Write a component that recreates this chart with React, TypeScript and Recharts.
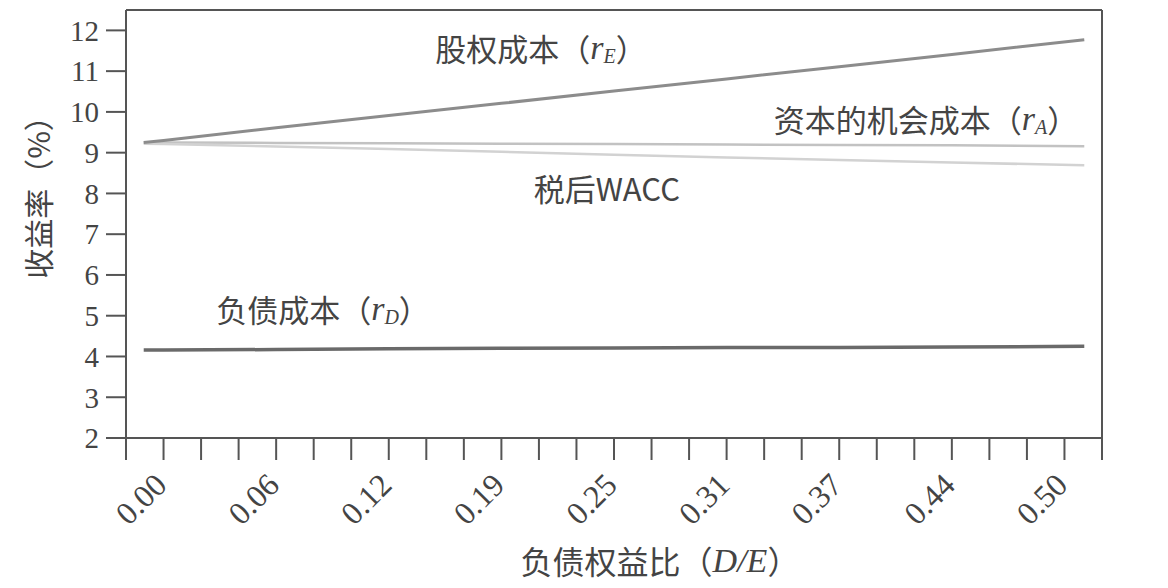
import React from 'react';
import { LineChart, Line, XAxis, YAxis, ReferenceDot, ReferenceLine } from 'recharts';

// D/E values where the curves were read
const debtEquity = [-0.011, 0, 0.0625, 0.125, 0.1875, 0.25, 0.3125, 0.375, 0.4375, 0.511];
const costOfEquity = [9.25, 9.3, 9.61, 9.91, 10.21, 10.51, 10.81, 11.11, 11.41, 11.77];
const costOfCapital = [9.25, 9.25, 9.24, 9.23, 9.22, 9.21, 9.2, 9.19, 9.18, 9.16];
const afterTaxWacc = [9.22, 9.21, 9.15, 9.09, 9.02, 8.95, 8.88, 8.82, 8.76, 8.69];
const costOfDebt = [4.16, 4.16, 4.17, 4.19, 4.2, 4.21, 4.22, 4.22, 4.23, 4.25];

const xTickLabels = ['0.00', '0.06', '0.12', '0.19', '0.25', '0.31', '0.37', '0.44', '0.50'];
const yTicks = [2, 3, 4, 5, 6, 7, 8, 9, 10, 11, 12];

const STEP = 1 / 48;
const xTicks = Array.from({ length: 27 }, (_, i) => (i - 1) * STEP);

const SERIF = '"Liberation Serif", "DejaVu Serif", serif';
const CJK = '"Noto Sans CJK SC", sans-serif';
const INK = '#444';
const AXIS = '#555';

const data = debtEquity.map((de, i) => ({
  de,
  rE: costOfEquity[i],
  rA: costOfCapital[i],
  wacc: afterTaxWacc[i],
  rD: costOfDebt[i],
}));

const XTick = (props: any) => {
  const { x, y, payload } = props;
  const k = Math.round(payload.value / STEP);
  if (k < 0 || k % 3 !== 0 || k / 3 >= xTickLabels.length) return null;
  const ax = x - 3;
  const ay = y + 17;
  return (
    <text
      x={ax}
      y={ay}
      transform={`rotate(-45, ${ax}, ${ay})`}
      textAnchor="end"
      dy="0.35em"
      fontFamily={SERIF}
      fontSize={32}
      fill={INK}
    >
      {xTickLabels[k / 3]}
    </text>
  );
};

const SeriesLabel = (props: any) => {
  const { viewBox, text, sub } = props;
  const cx = viewBox.x + (viewBox.width || 0) / 2;
  const cy = viewBox.y + (viewBox.height || 0) / 2;
  return (
    <text x={cx} y={cy} textAnchor="middle" dominantBaseline="central" fill={INK} fontSize={31}>
      <tspan fontFamily={CJK}>{text}</tspan>
      {sub && <tspan fontFamily={CJK}>（</tspan>}
      {sub && <tspan fontFamily={SERIF} fontStyle="italic" fontSize={34}>r</tspan>}
      {sub && <tspan fontFamily={SERIF} fontStyle="italic" fontSize={20} dy={9}>{sub}</tspan>}
      {sub && <tspan fontFamily={CJK} dy={-9}>）</tspan>}
    </text>
  );
};

const YLabel = (props: any) => {
  const { viewBox } = props;
  const x = viewBox.x + 37;
  const y = viewBox.y + viewBox.height / 2 - 34;
  return (
    <text x={x} y={y} transform={`rotate(-90, ${x}, ${y})`} textAnchor="middle" dominantBaseline="central" fill={INK} fontSize={30}>
      <tspan fontFamily={CJK}>收益率（%）</tspan>
    </text>
  );
};

const XLabel = (props: any) => {
  const { viewBox } = props;
  const x = viewBox.x + viewBox.width / 2 + 46;
  const y = viewBox.y + 122;
  return (
    <text x={x} y={y} textAnchor="middle" dominantBaseline="central" fill={INK} fontSize={32}>
      <tspan fontFamily={CJK}>负债权益比（</tspan>
      <tspan fontFamily={SERIF} fontStyle="italic" fontSize={34}>D/E</tspan>
      <tspan fontFamily={CJK}>）</tspan>
    </text>
  );
};

const annotations = [
  { x: 0.2095, y: 11.6, text: '股权成本', sub: 'E' },
  { x: 0.4231, y: 9.85, text: '资本的机会成本', sub: 'A' },
  { x: 0.246, y: 8.16, text: '税后WACC', sub: '' },
  { x: 0.0885, y: 5.2, text: '负债成本', sub: 'D' },
];

export default function App() {
  return (
    <div style={{ position: 'absolute', left: 0, top: 0, background: '#fff' }}>
      <LineChart width={1168} height={588} data={data} margin={{ top: 10, right: 66, bottom: 0, left: 0 }}>
        <XAxis
          dataKey="de"
          type="number"
          domain={[-STEP, 25 * STEP]}
          ticks={xTicks}
          interval={0}
          allowDataOverflow
          height={150}
          tickSize={22}
          tick={<XTick />}
          axisLine={{ stroke: AXIS, strokeWidth: 2 }}
          tickLine={{ stroke: AXIS, strokeWidth: 2 }}
          label={{ content: <XLabel /> }}
        />
        <YAxis
          type="number"
          domain={[2, 12.5]}
          ticks={yTicks}
          interval={0}
          width={126}
          tickSize={20}
          tickMargin={7}
          tick={{ fontFamily: SERIF, fontSize: 29, fill: INK }}
          axisLine={{ stroke: AXIS, strokeWidth: 2 }}
          tickLine={{ stroke: AXIS, strokeWidth: 2 }}
          label={{ content: <YLabel /> }}
        />
        {/* frame: top and right edges */}
        <ReferenceLine y={12.5} stroke={AXIS} strokeWidth={2} />
        <ReferenceLine x={25 * STEP} stroke={AXIS} strokeWidth={2} />
        <Line dataKey="rA" stroke="#c2c2c2" strokeWidth={2.5} dot={false} isAnimationActive={false} />
        <Line dataKey="wacc" stroke="#d2d2d2" strokeWidth={2.5} dot={false} isAnimationActive={false} />
        <Line dataKey="rE" stroke="#8c8c8c" strokeWidth={3} dot={false} isAnimationActive={false} />
        <Line dataKey="rD" stroke="#6a6a6a" strokeWidth={3.5} dot={false} isAnimationActive={false} />
        {annotations.map((a) => (
          <ReferenceDot
            key={a.text}
            x={a.x}
            y={a.y}
            r={1}
            fillOpacity={0}
            strokeOpacity={0}
            label={{ content: <SeriesLabel text={a.text} sub={a.sub} /> }}
          />
        ))}
      </LineChart>
    </div>
  );
}
